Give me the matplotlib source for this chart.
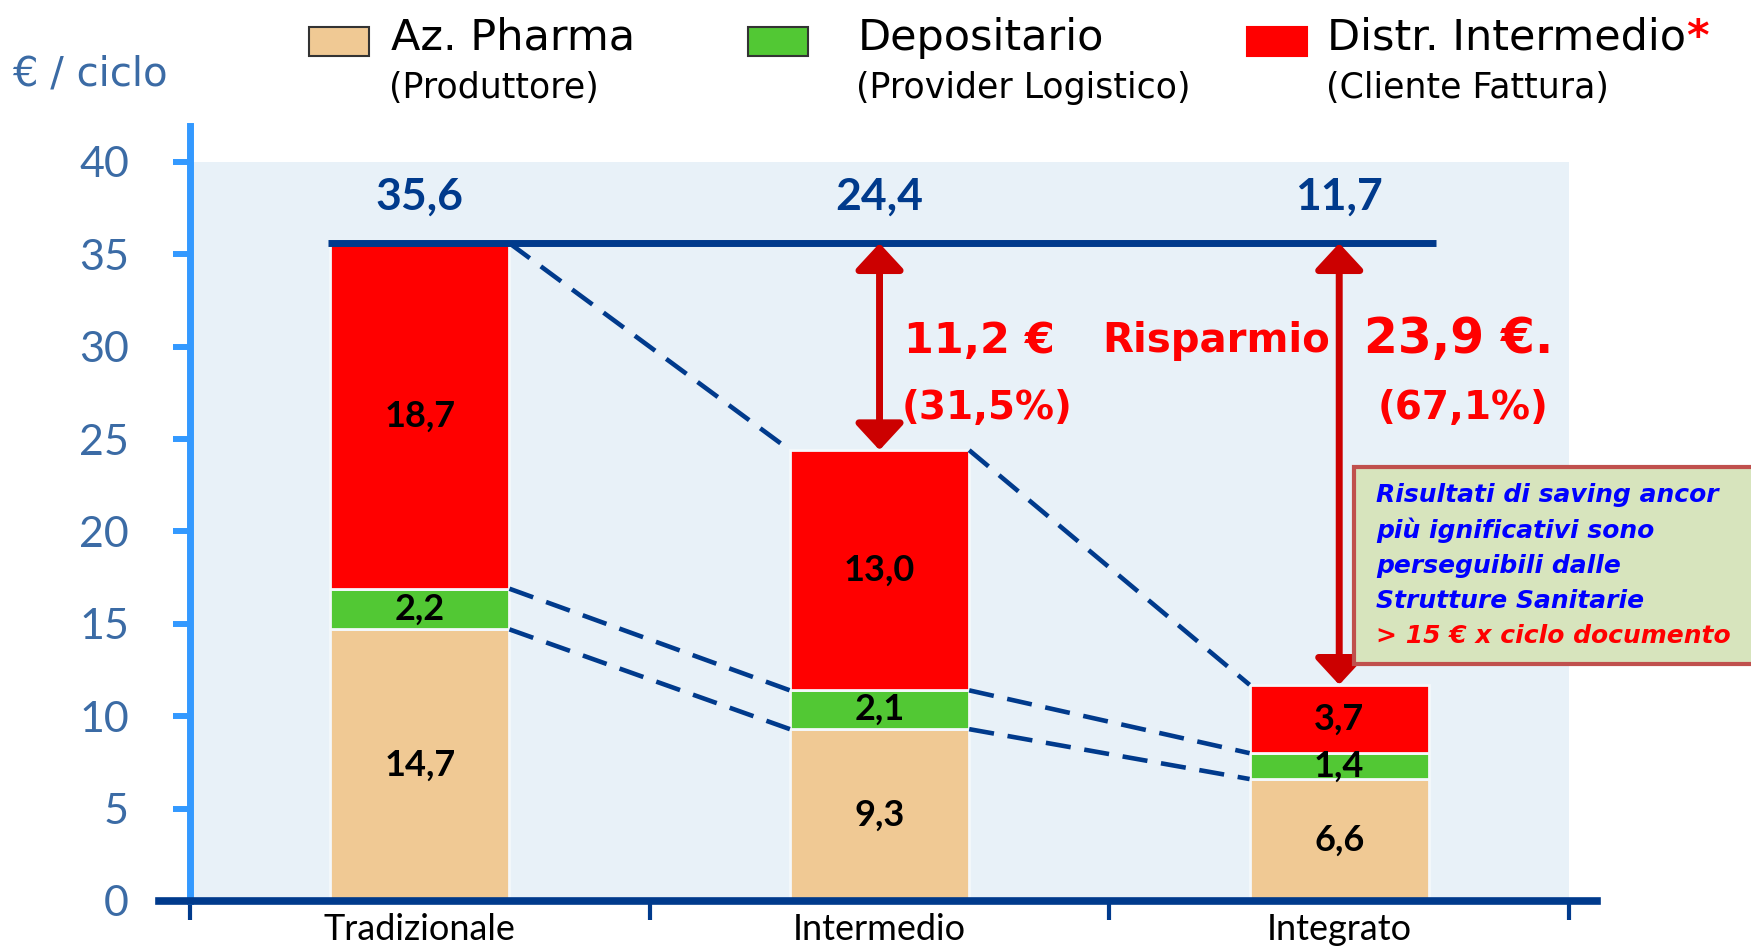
import matplotlib.pyplot as plt
import numpy as np
from matplotlib.patches import Rectangle, ArrowStyle
from matplotlib.lines import Line2D

# data
categories = ["Tradizionale", "Intermedio", "Integrato"]
pharma = [14.7, 9.3, 6.6]
depositario = [2.2, 2.1, 1.4]
distributore = [18.7, 13.0, 3.7]

legend_titles = ["Az. Pharma", "Depositario", "Distr. Intermedio"]
legend_subs = ["(Produttore)", "(Provider Logistico)", "(Cliente Fattura)"]
box_lines = ["Risultati di saving ancor", "più ignificativi sono",
             "perseguibili dalle", "Strutture Sanitarie"]
box_last = "> 15 € x ciclo documento"

TAN = "#f0c994"
GREEN = "#52c834"
RED = "#ff0000"
NAVY = "#003a8c"
SKY = "#3399ff"
STEEL = "#3b6ba5"
DARKRED = "#cc0000"


def fmt(v):
    return f"{v:.1f}".replace(".", ",")


pharma = np.array(pharma)
depositario = np.array(depositario)
distributore = np.array(distributore)
lvl_green = pharma + depositario
totals = lvl_green + distributore
x = np.arange(len(categories))
bw = 0.39

fig = plt.figure(figsize=(17.51, 9.47), dpi=100)
ax = fig.add_axes([0.1085, 0.0486, 0.7876, 0.7804])
ax.set_facecolor("#e8f1f8")
ax.set_xlim(-0.5, 2.5)
ax.set_ylim(0, 40)

ax.bar(x, pharma, bw, color=TAN, edgecolor="#f4f8fb", lw=2, zorder=2)
ax.bar(x, depositario, bw, bottom=pharma, color=GREEN, edgecolor="#f4f8fb", lw=2, zorder=2)
ax.bar(x, distributore, bw, bottom=lvl_green, color=RED, edgecolor="#f4f8fb", lw=2, zorder=2)

lab_font = dict(family="Lato", fontweight="bold", fontsize=26, color="black",
                ha="center", va="center", zorder=5)
for i in range(len(x)):
    ax.text(x[i], pharma[i] / 2, fmt(pharma[i]), **lab_font)
    ax.text(x[i], pharma[i] + depositario[i] / 2, fmt(depositario[i]), **lab_font)
    ax.text(x[i], lvl_green[i] + distributore[i] / 2, fmt(distributore[i]), **lab_font)
    ax.text(x[i], 38.1, fmt(totals[i]), family="Lato", fontweight="bold",
            fontsize=32, color=NAVY, ha="center", va="center")

# dashed connectors between the bars
hw = bw / 2
for lvl in (pharma, lvl_green, totals):
    for i in range(len(x) - 1):
        ax.plot([x[i] + hw, x[i + 1] - hw], [lvl[i], lvl[i + 1]], color=NAVY,
                lw=3.3, ls=(0, (5.5, 3)), zorder=3)

# reference line at the traditional total
ax.plot([-0.2, 2.21], [totals[0], totals[0]], color=NAVY, lw=5, zorder=4,
        solid_capstyle="butt")

# saving arrows
astyle = ArrowStyle("<|-|>", head_length=0.4, head_width=0.37)
for i in (1, 2):
    ax.annotate("", xy=(x[i], totals[i]), xytext=(x[i], totals[0]),
                arrowprops=dict(arrowstyle=astyle, color=DARKRED, lw=5,
                                mutation_scale=40, shrinkA=0, shrinkB=0),
                zorder=4)

saving = totals[0] - totals
pct = saving / totals[0] * 100
red_font = dict(family="DejaVu Sans", fontweight="bold", color=RED, va="center")
ax.text(1.053, 30.3, fmt(saving[1]) + " €", fontsize=31, ha="left", **red_font)
ax.text(1.485, 30.3, "Risparmio", fontsize=29, ha="left", **red_font)
ax.text(1.048, 26.7, "(" + fmt(pct[1]) + "%)", fontsize=28, ha="left", **red_font)
ax.text(2.26, 30.4, fmt(saving[2]) + " €.", fontsize=35, ha="center", **red_font)
ax.text(2.27, 26.7, "(" + fmt(pct[2]) + "%)", fontsize=28, ha="center", **red_font)

# axes styling
for s in ax.spines.values():
    s.set_visible(False)
ax.add_line(Line2D([0, 0], [0, 1.049], transform=ax.transAxes, color=SKY,
                   lw=5, clip_on=False, zorder=6))
ax.add_line(Line2D([-0.0225, 1.02], [0, 0], transform=ax.transAxes, color=NAVY,
                   lw=5.5, clip_on=False, zorder=7))

ax.set_yticks(np.arange(0, 41, 5))
ax.tick_params(axis="y", direction="out", length=12, width=4.3, color=SKY,
               pad=32, labelsize=31, labelcolor=STEEL)
for t in ax.get_yticklabels():
    t.set_family("Lato")

ax.set_xticks(x)
ax.set_xticklabels(categories, family="Lato", fontsize=26)
ax.set_xticks([-0.5, 0.5, 1.5, 2.5], minor=True)
ax.tick_params(axis="x", which="major", length=0, pad=9)
ax.tick_params(axis="x", which="minor", direction="out", length=14, width=3,
               color=NAVY)

fig.text(0.007, 0.921, "€ / ciclo", family="DejaVu Sans", fontsize=29,
         color=STEEL, va="center", ha="left")

# legend drawn by hand
patch_x = [0.1765, 0.4272, 0.7122]
text_x = [0.2233, 0.490, 0.758]
colors = [TAN, GREEN, RED]
edges = ["#333333", "#333333", RED]
for px, tx, c, ec, t1, t2 in zip(patch_x, text_x, colors, edges,
                                 legend_titles, legend_subs):
    fig.patches.append(Rectangle((px, 0.9409), 0.0343, 0.0306, facecolor=c,
                                 edgecolor=ec, lw=1.5, transform=fig.transFigure))
    t = fig.text(tx, 0.960, t1, family="DejaVu Sans", fontsize=31, va="center",
                 ha="left")
    fig.text(tx - 0.001, 0.907, t2, family="DejaVu Sans", fontsize=25,
             va="center", ha="left")
ax.annotate("*", xy=(1, 1), xycoords=t, ha="left", va="top", color=RED,
            fontsize=31, fontweight="bold", annotation_clip=False)

# note box on the right
fig.patches.append(Rectangle((0.7733, 0.2988), 0.24, 0.208, facecolor="#d7e4bd",
                             edgecolor="#c0504d", lw=3, transform=fig.transFigure,
                             zorder=10))
line_y = [495, 530, 566, 601]
for yy, s in zip(line_y, box_lines):
    fig.text(1376 / 1751, 1 - yy / 947, s, family="DejaVu Sans", fontsize=18,
             fontweight="bold", style="italic", color="#0000ff", va="center",
             ha="left", zorder=11)
fig.text(1376 / 1751, 1 - 636 / 947, box_last, family="DejaVu Sans", fontsize=18,
         fontweight="bold", style="italic", color=RED, va="center", ha="left",
         zorder=11)

fig.savefig("out.png", dpi=100)
